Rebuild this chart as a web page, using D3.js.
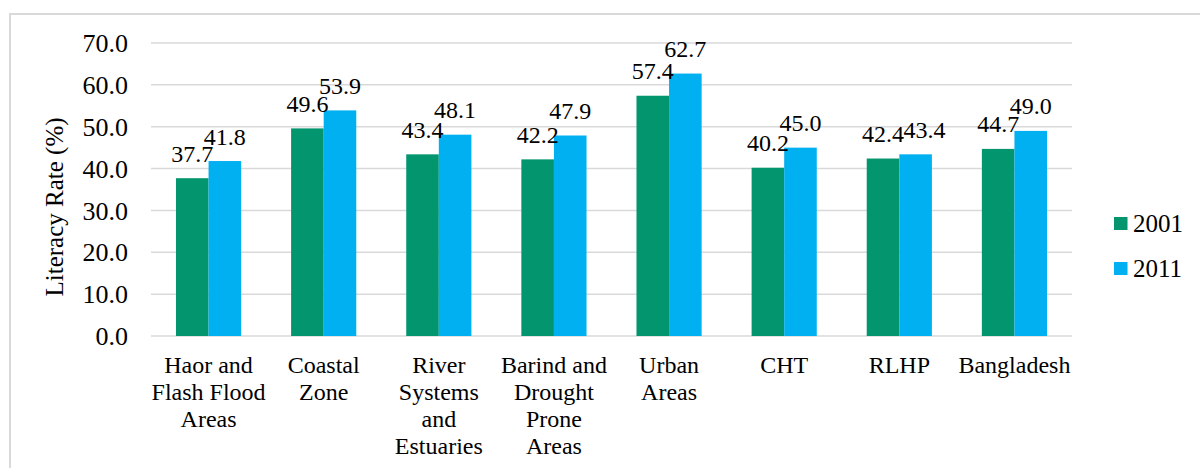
<!DOCTYPE html>
<html>
<head>
<meta charset="utf-8">
<script src="https://cdn.jsdelivr.net/npm/d3@7"></script>
<style>
  html, body { margin: 0; padding: 0; background: #fff; }
  svg { display: block; }
  svg text { font-family: "Liberation Serif", "Times New Roman", Times, serif; }
</style>
</head>
<body>
<svg id="chart" width="1200" height="468"></svg>
<script>
// Literacy rate by region, census years 2001 and 2011
const categories = [
  ["Haor and", "Flash Flood", "Areas"],
  ["Coastal", "Zone"],
  ["River", "Systems", "and", "Estuaries"],
  ["Barind and", "Drought", "Prone", "Areas"],
  ["Urban", "Areas"],
  ["CHT"],
  ["RLHP"],
  ["Bangladesh"]
];
const years = ["2001", "2011"];
const values2001 = [37.7, 49.6, 43.4, 42.2, 57.4, 40.2, 42.4, 44.7];
const values2011 = [41.8, 53.9, 48.1, 47.9, 62.7, 45.0, 43.4, 49.0];
const yTicks = [0, 10, 20, 30, 40, 50, 60, 70];
const colors = ["#03966e", "#00b0f0"];

const FONT = "'Liberation Serif', 'Times New Roman', Times, serif";
const svg = d3.select("#chart").attr("font-family", FONT);
const plot = { left: 151, right: 1072, top: 43, bottom: 336 };

// chart frame
svg.append("rect")
  .attr("x", 10).attr("y", 14)
  .attr("width", 1200).attr("height", 470)
  .attr("fill", "none").attr("stroke", "#d9d9d9").attr("stroke-width", 2);

const keys = categories.map((c, i) => i);
const x0 = d3.scaleBand().domain(keys).range([plot.left, plot.right])
  .paddingInner(0.434).paddingOuter(0.217);
const x1 = d3.scaleBand().domain(years).range([0, x0.bandwidth()]);
const y = d3.scaleLinear().domain([0, 70]).range([plot.bottom, plot.top]);

// gridlines
svg.append("g")
  .selectAll("line").data(yTicks).join("line")
  .attr("x1", plot.left).attr("x2", plot.right)
  .attr("y1", d => y(d)).attr("y2", d => y(d))
  .attr("stroke", "#d9d9d9").attr("stroke-width", 1.5);

// y axis tick labels
const yAxis = d3.axisLeft(y).tickValues(yTicks).tickFormat(d3.format(".1f")).tickSize(0).tickPadding(0);
const yg = svg.append("g").attr("transform", "translate(128,0)").call(yAxis);
yg.attr("font-family", FONT).attr("font-size", 26);
yg.select(".domain").remove();
yg.selectAll("text")
  .style("font-family", FONT)
  .attr("fill", "#000").attr("dy", "0.33em");

// y axis title
svg.append("text")
  .attr("transform", "translate(63,207) rotate(-90)")
  .attr("text-anchor", "middle")
  .style("font-family", FONT)
  .attr("font-size", 25).attr("fill", "#000")
  .text("Literacy Rate (%)");

// bars
const series = [values2001, values2011];
const groups = svg.append("g").selectAll("g").data(keys).join("g")
  .attr("transform", d => `translate(${x0(d)},0)`);

groups.selectAll("rect")
  .data(i => years.map((yr, s) => ({ yr, s, v: series[s][i] })))
  .join("rect")
  .attr("x", d => x1(d.yr))
  .attr("width", x1.bandwidth())
  .attr("y", d => y(d.v))
  .attr("height", d => y(0) - y(d.v))
  .attr("fill", d => colors[d.s]);

// value labels; when the two bars of a group are nearly level the
// second label is pushed right so the two numbers do not collide
groups.selectAll("text.val")
  .data(i => years.map((yr, s) => ({
    yr, s, v: series[s][i],
    crowded: Math.abs(series[1][i] - series[0][i]) < 2
  })))
  .join("text")
  .attr("class", "val")
  .attr("x", d => x1(d.yr) + x1.bandwidth() / 2 + (d.crowded && d.s === 1 ? 9 : 0))
  .attr("y", d => y(d.v) - 16.5)
  .attr("text-anchor", "middle")
  .style("font-family", FONT)
  .attr("font-size", 24).attr("fill", "#000")
  .text(d => d.v.toFixed(1));

// category labels
const cat = svg.append("g").selectAll("text").data(keys).join("text")
  .attr("x", d => x0(d) + x0.bandwidth() / 2)
  .attr("y", 373)
  .attr("text-anchor", "middle")
  .style("font-family", FONT)
  .attr("font-size", 24).attr("fill", "#000");
cat.selectAll("tspan").data(d => categories[d]).join("tspan")
  .attr("x", function () { return d3.select(this.parentNode).attr("x"); })
  .attr("dy", (d, i) => i === 0 ? 0 : 27)
  .text(d => d);

// legend
const legend = svg.append("g").selectAll("g").data(years).join("g")
  .attr("transform", (d, i) => `translate(1114,${217 + i * 45})`);
legend.append("rect")
  .attr("width", 13.5).attr("height", 13)
  .attr("fill", (d, i) => colors[i]);
legend.append("text")
  .attr("x", 19).attr("y", 15)
  .style("font-family", FONT)
  .attr("font-size", 25).attr("fill", "#000")
  .text(d => d);
</script>
</body>
</html>
